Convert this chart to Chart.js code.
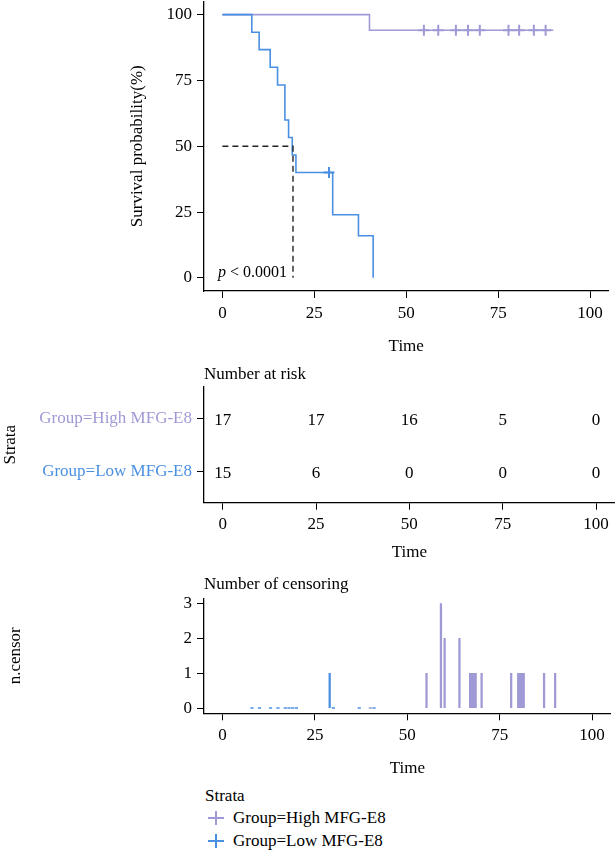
<!DOCTYPE html>
<html>
<head>
<meta charset="utf-8">
<script src="https://cdn.jsdelivr.net/npm/chart.js@4.4.0/dist/chart.umd.min.js"></script>
<style>
    body { margin: 0; background: #fff; width: 616px; height: 851px; position: relative; overflow: hidden;
           font-family: "Liberation Serif", "DejaVu Serif", serif; color: #000; }
    canvas { position: absolute; left: 0; }
    #legend div { position: absolute; font-size: 17px; line-height: 22px; white-space: nowrap; }
    .plus { position: absolute; left: -25px; top: 4px; width: 16px; height: 14px; }
    .plus::before, .plus::after { content: ''; position: absolute; background: var(--c); }
    .plus::before { left: 0; top: 6px; width: 16px; height: 2px; }
    .plus::after { left: 7px; top: 0; width: 2px; height: 14px; }
</style>
</head>
<body>
<canvas id="surv" width="616" height="366" style="top:-6px"></canvas>
<canvas id="risk" width="616" height="205" style="top:360px"></canvas>
<canvas id="cens" width="616" height="216" style="top:565px"></canvas>
<div id="legend"></div>
<script>
// tick labels
const timeTicks = [0, 25, 50, 75, 100];
const survTicks = [0, 25, 50, 75, 100];
const censorTicks = [0, 1, 2, 3];
const strata = ['Group=High MFG-E8', 'Group=Low MFG-E8'];

// Kaplan-Meier curves (time, survival %)
const highTimes = [0, 40, 90];
const highSurv = [100, 94.1, 94.1];
const lowTimes = [0, 8, 10, 13, 15, 17, 18, 19, 20, 30, 37, 41];
const lowSurv = [100, 93.3, 86.7, 80, 73.3, 60, 53.3, 46.7, 40, 24, 16, 0];

// censor marks on the curves
const highCensorTimes = [54.8, 58.7, 63.5, 66.8, 70, 77.8, 80.7, 84.7, 87.9];
const lowCensorTimes = [29];

// median survival of the low group
const medianTime = 19.2;
const medianSurv = 50;

// number at risk
const riskTimes = [0, 25, 50, 75, 100];
const highRisk = [17, 17, 16, 5, 0];
const lowRisk = [15, 6, 0, 0, 0];

// number of censoring
const highNCensorTimes = [40, 55.2, 59.1, 60.1, 64.1, 67, 67.5, 68, 68.5, 70.1, 78.1, 80, 80.5, 81, 81.5, 87, 90];
const highNCensor = [0, 1, 3, 2, 2, 1, 1, 1, 1, 1, 1, 1, 1, 1, 1, 1, 1];
const lowNCensorTimes = [8, 10, 13, 15, 17, 18, 19, 20, 29, 30, 37, 41];
const lowNCensor = [0, 0, 0, 0, 0, 0, 0, 0, 1, 0, 0, 0];

const PURPLE = '#9f9ad5';
const BLUE = '#4a90e2';
const FONT = { family: '"Liberation Serif", "DejaVu Serif", serif', size: 17 };

function survAt(times, surv, t) {
    let s = surv[0];
    times.forEach((tt, i) => { if (tt <= t) s = surv[i]; });
    return s;
}

function noPad(s) {
    s.paddingTop = 0; s.paddingBottom = 0; s.paddingLeft = 0; s.paddingRight = 0;
}

function xAxis(height, titlePad) {
    return {
        type: 'linear', min: -5, max: 105, offset: false,
        afterBuildTicks: s => { s.ticks = timeTicks.map(v => ({ value: v })); },
        afterFit: s => { s.height = height; noPad(s); },
        grid: { drawOnChartArea: false, drawTicks: true, tickLength: 7, color: '#000', offset: false },
        border: { display: true, color: '#000', width: 1.3 },
        ticks: { color: '#000', font: FONT, padding: 5, maxRotation: 0 },
        title: { display: true, text: 'Time', color: '#000', font: FONT, padding: { top: 0, bottom: titlePad } }
    };
}

function yAxis(width, min, max, ticks, title, extra) {
    return Object.assign({
        type: 'linear', min: min, max: max,
        afterBuildTicks: s => { s.ticks = ticks.map(v => ({ value: v })); },
        afterFit: s => { s.width = width; noPad(s); },
        grid: { drawOnChartArea: false, drawTicks: true, tickLength: 7, color: '#000' },
        border: { display: true, color: '#000', width: 1.3 },
        ticks: { color: '#000', font: FONT, padding: 5 },
        title: { display: true, text: title, color: '#000', font: FONT, padding: 0 }
    }, extra || {});
}

const baseOpts = { responsive: false, animation: false, events: [] };

// p value label
const pValuePlugin = {
    id: 'pvalue',
    afterDatasetsDraw(chart) {
        const ctx = chart.ctx;
        const x = chart.scales.x.getPixelForValue(-1.2);
        const y = chart.scales.y.getPixelForValue(2);
        ctx.save();
        ctx.fillStyle = '#000';
        ctx.textBaseline = 'middle';
        ctx.textAlign = 'left';
        ctx.font = 'italic 16px "Liberation Serif"';
        ctx.fillText('p', x, y);
        const w = ctx.measureText('p').width;
        ctx.font = '16px "Liberation Serif"';
        ctx.fillText(' < 0.0001', x + w, y);
        ctx.restore();
    }
};

new Chart(document.getElementById('surv'), {
    type: 'scatter',
    data: {
        datasets: [
            {
                data: highCensorTimes.map(t => ({ x: t, y: survAt(highTimes, highSurv, t) })),
                pointStyle: 'cross', pointRadius: 5.5, borderColor: PURPLE, borderWidth: 2
            },
            {
                data: lowCensorTimes.map(t => ({ x: t, y: survAt(lowTimes, lowSurv, t) })),
                pointStyle: 'cross', pointRadius: 5.5, borderColor: BLUE, borderWidth: 2
            },
            {
                data: [{ x: 0, y: medianSurv }, { x: medianTime, y: medianSurv }, { x: medianTime, y: 0 }],
                showLine: true, borderColor: '#222', borderWidth: 1.4, borderDash: [6, 4], pointRadius: 0
            },
            {
                data: lowTimes.map((t, i) => ({ x: t, y: lowSurv[i] })),
                showLine: true, stepped: 'before', borderColor: BLUE, borderWidth: 1.6, pointRadius: 0
            },
            {
                data: highTimes.map((t, i) => ({ x: t, y: highSurv[i] })),
                showLine: true, stepped: 'before', borderColor: PURPLE, borderWidth: 1.6, pointRadius: 0
            }
        ]
    },
    options: Object.assign({}, baseOpts, {
        layout: { padding: { left: 127, right: 1.3, top: 0, bottom: 0 } },
        plugins: { legend: { display: false }, tooltip: { enabled: false } },
        scales: {
            x: xAxis(69, 2.8),
            y: yAxis(77, -5, 105, survTicks, 'Survival probability(%)')
        }
    }),
    plugins: [pValuePlugin]
});

// risk table numbers
const riskLabelPlugin = {
    id: 'riskLabels',
    afterDatasetsDraw(chart) {
        const ctx = chart.ctx;
        ctx.save();
        ctx.fillStyle = '#000';
        ctx.font = '17px "Liberation Serif"';
        ctx.textAlign = 'center';
        ctx.textBaseline = 'middle';
        chart.data.datasets.forEach((ds, i) => {
            chart.getDatasetMeta(i).data.forEach((el, j) => {
                ctx.fillText(String(ds.data[j].n), el.x, el.y + 2);
            });
        });
        ctx.restore();
    }
};

new Chart(document.getElementById('risk'), {
    type: 'scatter',
    data: {
        datasets: [
            { data: riskTimes.map((t, i) => ({ x: t, y: 2, n: highRisk[i] })), pointRadius: 0 },
            { data: riskTimes.map((t, i) => ({ x: t, y: 1, n: lowRisk[i] })), pointRadius: 0 }
        ]
    },
    options: Object.assign({}, baseOpts, {
        layout: { padding: { left: 0, right: 1.3, top: 0, bottom: 0 } },
        plugins: {
            legend: { display: false }, tooltip: { enabled: false },
            title: {
                display: true, text: 'Number at risk', align: 'start', fullSize: false,
                color: '#000', font: Object.assign({ weight: 'normal' }, FONT), padding: { top: 4.8, bottom: 1.5 }
            }
        },
        scales: {
            x: xAxis(62.3, 2.1),
            y: yAxis(204, 0.4, 2.6, [1, 2], 'Strata', {
                ticks: {
                    font: FONT, padding: 5,
                    color: c => (c.tick && c.tick.value === 2 ? PURPLE : BLUE),
                    callback: v => (v === 2 ? strata[0] : strata[1])
                }
            })
        }
    }),
    plugins: [riskLabelPlugin]
});

// number of censoring
function bars(times, counts) {
    return times.map((t, i) => ({ x: t, y: counts[i] })).filter(p => p.y > 0);
}
function zeros(times, counts) {
    return times.map((t, i) => ({ x: t, y: counts[i] })).filter(p => p.y === 0);
}

new Chart(document.getElementById('cens'), {
    type: 'bar',
    data: {
        datasets: [
            { type: 'scatter', data: zeros(lowNCensorTimes, lowNCensor), pointStyle: 'line', pointRadius: 1.6, borderColor: BLUE, borderWidth: 1.4 },
            { type: 'scatter', data: zeros(highNCensorTimes, highNCensor), pointStyle: 'line', pointRadius: 1.6, borderColor: PURPLE, borderWidth: 1.4 },
            { data: bars(lowNCensorTimes, lowNCensor), backgroundColor: BLUE, barThickness: 1.6, grouped: false },
            { data: bars(highNCensorTimes, highNCensor), backgroundColor: PURPLE, barThickness: 1.6, grouped: false }
        ]
    },
    options: Object.assign({}, baseOpts, {
        layout: { padding: { left: 5.8, right: 1.3, top: 0, bottom: 0 } },
        plugins: {
            legend: { display: false }, tooltip: { enabled: false },
            title: {
                display: true, text: 'Number of censoring', align: 'start', fullSize: false,
                color: '#000', font: Object.assign({ weight: 'normal' }, FONT), padding: { top: 9.8, bottom: 3.1 }
            }
        },
        scales: {
            x: xAxis(67.7, 1.8),
            y: yAxis(198.2, -0.15, 3.15, censorTicks, 'n.censor')
        }
    })
});

// legend
const legend = document.getElementById('legend');
const legendColors = [PURPLE, BLUE];
const head = document.createElement('div');
head.textContent = 'Strata';
head.style.left = '205px';
head.style.top = '785px';
legend.appendChild(head);
strata.forEach((name, i) => {
    const row = document.createElement('div');
    row.style.left = '233px';
    row.style.top = (807 + i * 23) + 'px';
    row.innerHTML = '<span class="plus" style="--c:' + legendColors[i] + '"></span>' + name;
    legend.appendChild(row);
});
</script>
</body>
</html>
